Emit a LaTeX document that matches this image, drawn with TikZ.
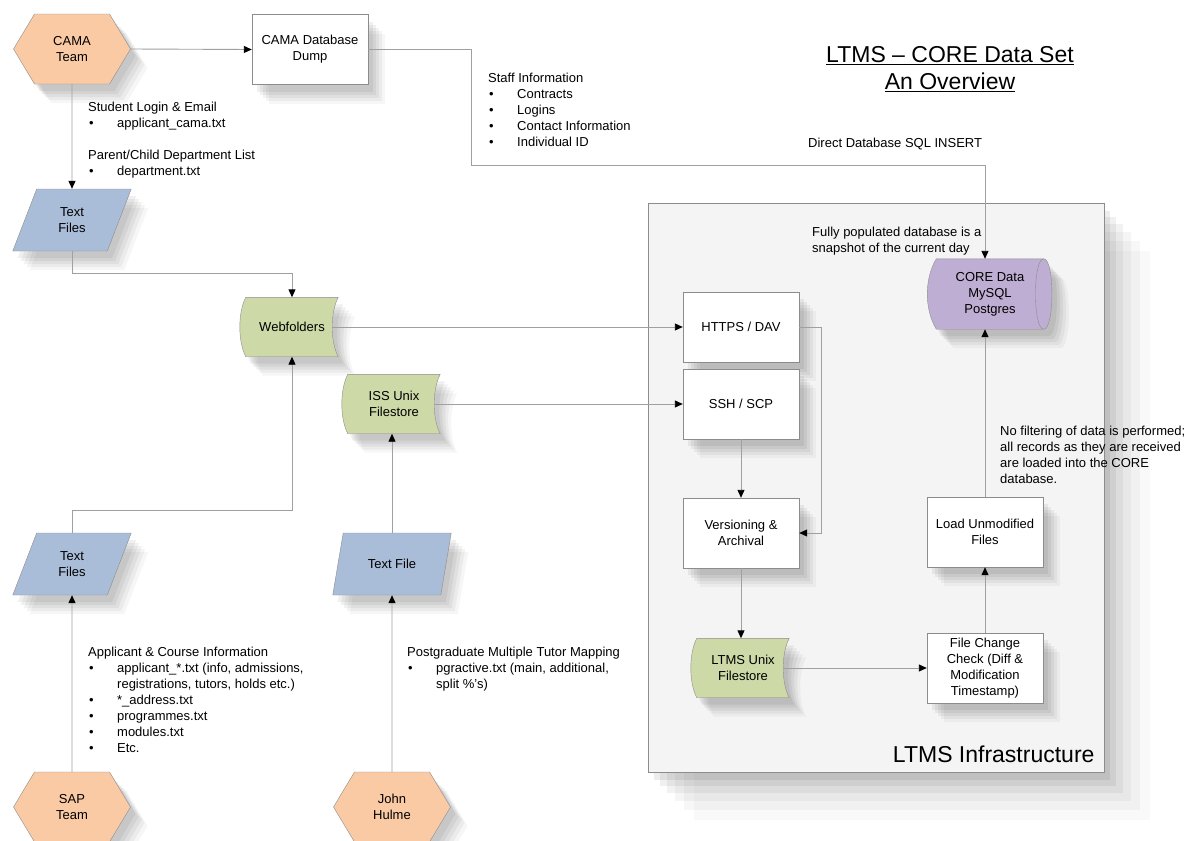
\documentclass[tikz,border=0pt]{standalone}
\usepackage{fontspec}
\setmainfont{Liberation Sans}
\usepackage{tikz}
\usetikzlibrary{shapes.geometric, shapes.symbols, arrows.meta, positioning, calc, backgrounds, shadows}

\definecolor{teamfill}{HTML}{FACAA5}
\definecolor{filefill}{HTML}{AABDD8}
\definecolor{storefill}{HTML}{CDD9A6}
\definecolor{dbfill}{HTML}{BFAED3}
\definecolor{infrafill}{HTML}{F4F4F4}
\definecolor{edgegray}{HTML}{8C8C8C}
\definecolor{wire}{HTML}{A0A0A0}

\newcommand{\itm}{\makebox[29pt][l]{\hspace{1pt}\textbullet}}

\begin{document}
\begin{tikzpicture}[
    x=1pt, y=-1pt,
    every node/.append style={font=\fontsize{13}{16}\selectfont},
    softshadow/.style={
        general shadow={fill=black, opacity=.035, shadow xshift=17pt, shadow yshift=-19pt},
        general shadow={fill=black, opacity=.045, shadow xshift=14pt, shadow yshift=-16pt},
        general shadow={fill=black, opacity=.05, shadow xshift=11pt, shadow yshift=-13pt},
        general shadow={fill=black, opacity=.055, shadow xshift=8pt, shadow yshift=-10pt},
        general shadow={fill=black, opacity=.06, shadow xshift=5pt, shadow yshift=-7pt}},
    bigshadow/.style={
        general shadow={fill=black, opacity=.025, shadow xshift=46pt, shadow yshift=-48pt},
        general shadow={fill=black, opacity=.03, shadow xshift=36pt, shadow yshift=-38pt},
        general shadow={fill=black, opacity=.04, shadow xshift=27pt, shadow yshift=-29pt},
        general shadow={fill=black, opacity=.05, shadow xshift=19pt, shadow yshift=-21pt},
        general shadow={fill=black, opacity=.06, shadow xshift=12pt, shadow yshift=-14pt},
        general shadow={fill=black, opacity=.07, shadow xshift=6pt, shadow yshift=-8pt}},
    team/.style={signal, signal to=east and west, signal pointer angle=118, draw=edgegray, fill=teamfill, minimum width=117, minimum height=70, align=center, softshadow},
    box/.style={rectangle, draw=edgegray, fill=white, minimum width=116, minimum height=70, align=center, softshadow},
    file/.style={trapezium, trapezium left angle=70, trapezium right angle=110, trapezium stretches=true, draw=edgegray, fill=filefill, minimum width=119, minimum height=62, align=center, softshadow},
    store/.style={rectangle, minimum width=92, minimum height=59, align=center},
    storeline/.style={draw=edgegray, fill=storefill, softshadow},
    dbline/.style={draw=edgegray, fill=dbfill, softshadow},
    infrabox/.style={draw=edgegray, fill=infrafill, bigshadow},
    note/.style={anchor=north west, inner sep=0pt, align=left},
    flow/.style={draw=wire, line width=0.9pt, -{Triangle[length=8pt, width=7pt, color=black]}}
]
\useasboundingbox (0,0) rectangle (1187,841);

% Title
\node[anchor=north, align=center, font=\fontsize{23}{27}\selectfont] (title) at (950,43) {\underline{LTMS -- CORE Data Set}\\\underline{An Overview}};

% Sources
\node[team] (cama) at (72,49) {CAMA\\Team};
\node[box] (dump) at (310,49.5) {CAMA Database\\Dump};
\node[file] (txtA) at (72,220) {Text\\Files};
\node[store] (web) at (292,327) {Webfolders};
\node[store] (iss) at (394,404) {ISS Unix\\Filestore};
\node[file] (txtB) at (72,564) {Text\\Files};
\node[file] (txtC) at (392,564) {Text File};
\node[team] (sap) at (72,807) {SAP\\Team};
\node[team] (john) at (392,807) {John\\Hulme};

% Inside LTMS
\node[store, minimum width=107, minimum height=70] (core) at (990,294) {CORE Data\\MySQL\\Postgres};
\node[box] (https) at (741,327) {HTTPS / DAV};
\node[box] (ssh) at (741,404) {SSH / SCP};
\node[box] (load) at (985,532) {Load Unmodified\\Files};
\node[box] (vers) at (741,533) {Versioning \&\\Archival};
\node[store] (ltmsfs) at (743,668) {LTMS Unix\\Filestore};
\node[box] (check) at (985,668) {File Change\\Check (Diff \&\\Modification\\Timestamp)};
\node[anchor=base east, font=\fontsize{23}{27}\selectfont] (infralbl) at (1098,762) {LTMS Infrastructure};

% Frame, stored data and database outlines
\begin{scope}[on background layer]
\path[infrabox] (648,203) rectangle (1104,772);
\foreach \s in {web, iss, ltmsfs}
  \path[storeline] (\s.north west) .. controls +(-8,15) and +(-8,-15) .. (\s.south west)
    -- (\s.south east) .. controls +(-8,-15) and +(-8,15) .. (\s.north east) -- cycle;
\path[dbline] (core.north west) .. controls +(-12,20) and +(-12,-20) .. (core.south west)
  -- (core.south east) .. controls +(11,0) and +(11,0) .. (core.north east) -- cycle;
\draw[edgegray] (core.north east) .. controls +(-11,0) and +(-11,0) .. (core.south east);
\end{scope}

% Connectors
\coordinate (sqlbend) at (load.north |- 0,165);
\draw[flow] (cama.east) -- (dump.west);
\draw[flow] (dump.east) -- ++(103,0) |- (sqlbend) -- (load.north |- core.north);
\draw[flow] (cama.south) -- (txtA.north);
\draw[flow] (txtA.south) -- ++(0,22) -| (web.north);
\draw[flow] (sap.north) -- (txtB.south);
\draw[flow] (txtB.north) -- ++(0,-22) -| (web.south);
\draw[flow] (john.north) -- (txtC.south);
\draw[flow] (txtC.north) -- (txtC.north |- iss.south);
\draw[flow] ([xshift=-6pt]web.east) -- (https.west);
\draw[flow] ([xshift=-6pt]iss.east) -- (ssh.west);
\draw[flow] (https.east) -- ++(22,0) |- (vers.east);
\draw[flow] (ssh.south) -- (vers.north);
\draw[flow] (vers.south) -- (vers.south |- ltmsfs.north);
\draw[flow] ([xshift=-6pt]ltmsfs.east) -- (check.west);
\draw[flow] (check.north) -- (load.south);
\draw[flow] (load.north) -- (load.north |- core.south);

% Notes
\node[note] (lblStudent) at (88,102) {Student Login \& Email\\\itm applicant\_cama.txt\\[16pt]Parent/Child Department List\\\itm department.txt};
\node[note] (lblStaff) at (488,73) {Staff Information\\\itm Contracts\\\itm Logins\\\itm Contact Information\\\itm Individual ID};
\node[note] (lblSql) at (808,138) {Direct Database SQL INSERT};
\node[note] (lblSnap) at (812,227) {Fully populated database is a\\snapshot of the current day};
\node[note] (lblFilter) at (1000,426) {No filtering of data is performed;\\all records as they are received\\are loaded into the CORE\\database.};
\node[note] (lblApplicant) at (88,647) {Applicant \& Course Information\\\itm applicant\_*.txt (info, admissions,\\\hspace*{29pt}registrations, tutors, holds etc.)\\\itm *\_address.txt\\\itm programmes.txt\\\itm modules.txt\\\itm Etc.};
\node[note] (lblPg) at (407,647) {Postgraduate Multiple Tutor Mapping\\\itm pgractive.txt (main, additional,\\\hspace*{29pt}split \%’s)};

\end{tikzpicture}
\end{document}
